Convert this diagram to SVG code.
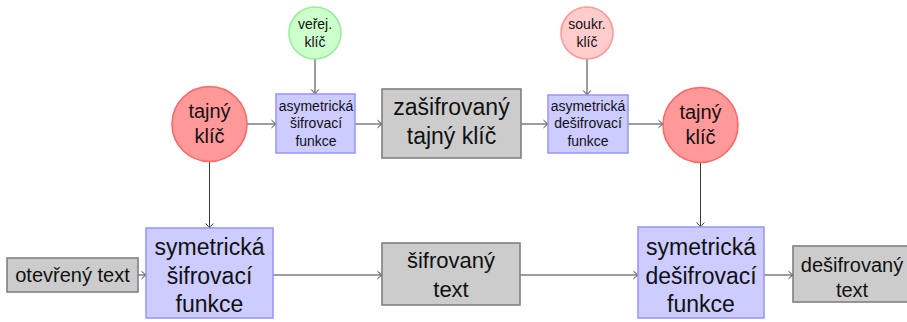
<svg xmlns="http://www.w3.org/2000/svg" width="907" height="322" viewBox="0 0 907 322">
  <style>
    text { font-family: "Liberation Sans", Arial, sans-serif; fill: #111; text-anchor: middle; }
    .gray { fill: #cccccc; stroke: #808080; stroke-width: 1.6; }
    .blue { fill: #ccccff; stroke: #9999ff; stroke-width: 1.6; }
    .red { fill: #ff9999; stroke: #ff6666; stroke-width: 1.6; }
    .lred { fill: #ffcccc; stroke: #ff9999; stroke-width: 1.6; }
    .green { fill: #ccffcc; stroke: #99ee99; stroke-width: 1.6; }
    .edge { fill: none; stroke: #3a3a3a; stroke-width: 1; marker-end: url(#tip); }
    .s14 { font-size: 14px; }
    .s20 { font-size: 20px; }
    .s22 { font-size: 22px; }
    .s23 { font-size: 23px; }
  </style>
  <defs>
    <marker id="tip" markerUnits="userSpaceOnUse" markerWidth="10" markerHeight="10" viewBox="-6 -5 8 10" refX="0" refY="0" orient="auto">
      <path d="M-4.5,-3.8 Q-1.2,-0.8 0,0 Q-1.2,0.8 -4.5,3.8" fill="none" stroke="#3a3a3a" stroke-width="1"/>
    </marker>
  </defs>

  <g id="connectors">
    <line class="edge" x1="315" y1="59" x2="315" y2="94"/>
    <line class="edge" x1="587" y1="59" x2="587" y2="95"/>
    <line class="edge" x1="247" y1="124" x2="276" y2="124"/>
    <line class="edge" x1="355" y1="124" x2="382" y2="124"/>
    <line class="edge" x1="521" y1="124" x2="548" y2="124"/>
    <line class="edge" x1="628" y1="124" x2="663" y2="124"/>
    <line class="edge" x1="209.5" y1="162" x2="209.5" y2="228"/>
    <line class="edge" x1="700.5" y1="163" x2="700.5" y2="227"/>
    <line class="edge" x1="138" y1="275" x2="146" y2="275"/>
    <line class="edge" x1="273" y1="275" x2="382" y2="275"/>
    <line class="edge" x1="520" y1="275" x2="638" y2="275"/>
    <line class="edge" x1="764" y1="275" x2="793" y2="275"/>
  </g>

  <g id="pubkey">
    <circle class="green" cx="315" cy="33" r="26"/>
    <text class="s14" x="315" y="29">veřej.</text>
    <text class="s14" x="315" y="47">klíč</text>
  </g>

  <g id="privkey">
    <circle class="lred" cx="587" cy="33" r="26"/>
    <text class="s14" x="587" y="29">soukr.</text>
    <text class="s14" x="587" y="47">klíč</text>
  </g>

  <g id="secret-left">
    <circle class="red" cx="209.5" cy="124" r="37.5"/>
    <text class="s20" x="209.5" y="118">tajný</text>
    <text class="s20" x="209.5" y="143">klíč</text>
  </g>

  <g id="asym-encrypt">
    <rect class="blue" x="276" y="94" width="79" height="59"/>
    <text class="s14" x="316" y="111">asymetrická</text>
    <text class="s14" x="316" y="128">šifrovací</text>
    <text class="s14" x="316" y="146">funkce</text>
  </g>

  <g id="encrypted-key">
    <rect class="gray" x="382" y="89" width="139" height="69"/>
    <text class="s23" x="451.5" y="115">zašifrovaný</text>
    <text class="s23" x="451.5" y="144">tajný klíč</text>
  </g>

  <g id="asym-decrypt">
    <rect class="blue" x="548" y="95" width="80" height="58"/>
    <text class="s14" x="588" y="111">asymetrická</text>
    <text class="s14" x="588" y="128">dešifrovací</text>
    <text class="s14" x="588" y="146">funkce</text>
  </g>

  <g id="secret-right">
    <circle class="red" cx="700.5" cy="125" r="37.5"/>
    <text class="s20" x="700.5" y="119">tajný</text>
    <text class="s20" x="700.5" y="144">klíč</text>
  </g>

  <g id="plaintext">
    <rect class="gray" x="7" y="258" width="131" height="34"/>
    <text class="s20" x="72.5" y="282">otevřený text</text>
  </g>

  <g id="sym-encrypt">
    <rect class="blue" x="146" y="228" width="127" height="90"/>
    <text class="s23" x="209.5" y="255">symetrická</text>
    <text class="s23" x="209.5" y="284">šifrovací</text>
    <text class="s23" x="209.5" y="312">funkce</text>
  </g>

  <g id="ciphertext">
    <rect class="gray" x="382" y="243" width="138" height="62"/>
    <text class="s22" x="451" y="268">šifrovaný</text>
    <text class="s22" x="451" y="297">text</text>
  </g>

  <g id="sym-decrypt">
    <rect class="blue" x="638" y="227" width="126" height="91"/>
    <text class="s23" x="701" y="255">symetrická</text>
    <text class="s23" x="701" y="284">dešifrovací</text>
    <text class="s23" x="701" y="312">funkce</text>
  </g>

  <g id="decrypted-text">
    <rect class="gray" x="793" y="246" width="116" height="56"/>
    <text class="s20" x="852" y="272">dešifrovaný</text>
    <text class="s20" x="852" y="297">text</text>
  </g>
</svg>
